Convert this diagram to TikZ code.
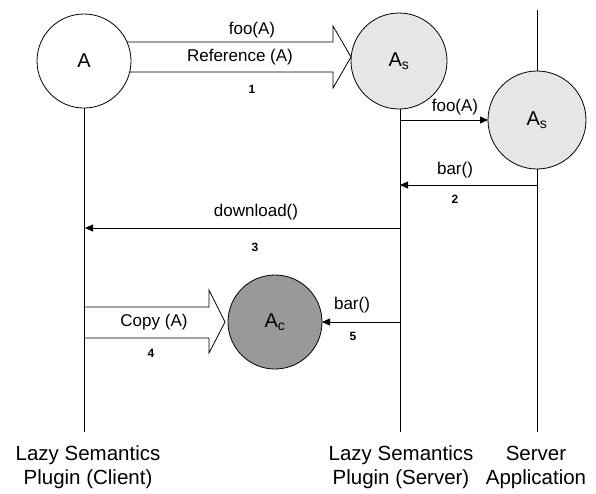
\documentclass[tikz,border=0pt]{standalone}
\usepackage{fontspec}
\setmainfont{Liberation Sans}
\usetikzlibrary{arrows.meta}
\definecolor{lightfill}{HTML}{E6E6E6}
\definecolor{darkfill}{HTML}{999999}
\begin{document}
\begin{tikzpicture}[x=1pt,y=-1pt,
  every node/.style={inner sep=0pt,outer sep=0pt},
  line/.style={line width=0.8pt,draw=black},
  msg/.style={line width=0.8pt,-{Triangle[length=8pt,width=7pt]}},
  blockarrow/.style={line width=0.8pt,draw=black,fill=white,line join=miter},
  obj/.style={circle,draw=black,line width=0.8pt,minimum size=#1,font=\fontsize{20}{24}\selectfont},
  lbl/.style={font=\fontsize{17}{20}\selectfont},
  num/.style={font=\fontsize{12}{14}\selectfont\bfseries},
  actor/.style={font=\fontsize{20.5}{24}\selectfont,align=center}
]
\useasboundingbox (0,0) rectangle (596,493);

% lifeline end points
\coordinate (cbot) at (85,432);
\coordinate (sbot) at (400,432);
\coordinate (apptop) at (537,10);
\coordinate (appbot) at (537,432);

% block arrows (drawn first, circles cover their ends)
\draw[blockarrow] (126,42) -- (333,42) -- (333,26) -- (351,57) -- (333,88) -- (333,72) -- (126,72);
\draw[blockarrow] (85,307) -- (209,307) -- (209,290) -- (225,322) -- (209,353) -- (209,338) -- (85,338);

% objects
\node[obj=94pt,fill=white] (a) at (84,61) {A};
\node[obj=96pt,fill=lightfill] (s1) at (399,61) {A\textsubscript{s}};
\node[obj=98pt,fill=lightfill] (s2) at (537,120) {A\textsubscript{s}};
\node[obj=94pt,fill=darkfill] (c) at (275,322) {A\textsubscript{c}};

% lifelines
\draw[line] (a.south) -- (a.south |- cbot);
\draw[line] (s1.south -| sbot) -- (sbot);
\draw[line] (apptop) -- (s2.north);
\draw[line] (s2.south) -- (appbot);

% message anchor points
\coordinate (m1s) at (400,120);
\coordinate (m2s) at (537,185);
\coordinate (m2e) at (400,185);
\coordinate (m3s) at (400,228);
\coordinate (m3e) at (85,228);
\coordinate (m5s) at (400,322);

\draw[msg] (m1s) -- (s2.west);
\draw[msg] (m2s) -- (m2e);
\draw[msg] (m3s) -- (m3e);
\draw[msg] (m5s) -- (c.east);

% labels
\node[lbl] (l1a) at (252,30) {foo(A)};
\node[lbl] (l1b) at (240,57) {Reference (A)};
\node[num] (n1) at (252,89) {1};
\node[lbl] (l2) at (455,107) {foo(A)};
\node[lbl] (l3) at (455,170) {bar()};
\node[num] (n2) at (455,199) {2};
\node[lbl] (l4) at (256,212) {download()};
\node[num] (n3) at (255,247) {3};
\node[lbl] (l5) at (154,322) {Copy (A)};
\node[num] (n4) at (151,353) {4};
\node[lbl] (l6) at (352,305) {bar()};
\node[num] (n5) at (353,336) {5};

% actors
\node[actor,anchor=base] (act1) at (88,484) {Lazy Semantics\\Plugin (Client)};
\node[actor,anchor=base] (act2) at (401,484) {Lazy Semantics\\Plugin (Server)};
\node[actor,anchor=base] (act3) at (536,484) {Server\\Application};
\end{tikzpicture}
\end{document}
